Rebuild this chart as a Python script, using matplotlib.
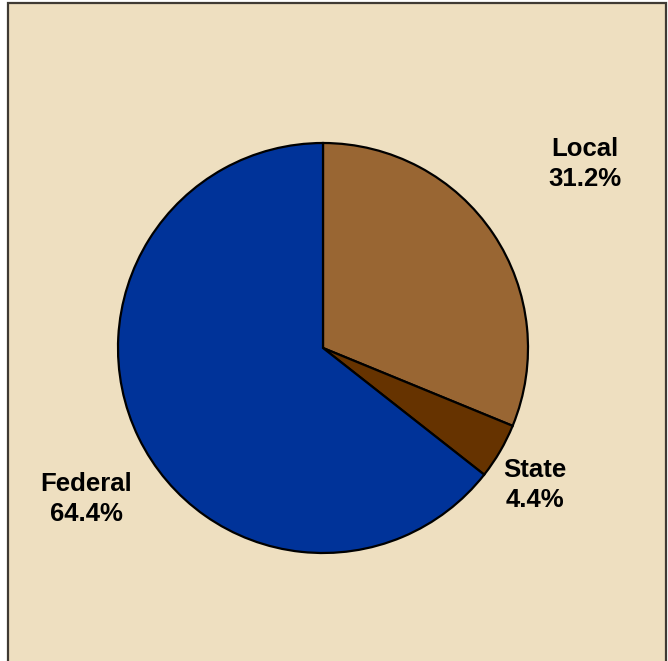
import matplotlib.pyplot as plt
from matplotlib.patches import Rectangle

# Funding shares by level of government
fontes = ['Local', 'State', 'Federal']
percentuais = [31.2, 4.4, 64.4]
cores = ['#996633', '#663300', '#003399']

fig = plt.figure(figsize=(6.68, 6.61), dpi=100)
fig.patch.set_facecolor('white')
ax = fig.add_axes([0, 0, 1, 1])
ax.axis('off')

# fundo tipo pergaminho com moldura escura
ax.add_patch(Rectangle((8, -10), 658, 668, facecolor='#eedfc0',
                       edgecolor='#3f3a33', linewidth=1.6, zorder=0))

ax.pie(percentuais, colors=cores, startangle=90, counterclock=False,
       center=(323, 313), radius=205,
       wedgeprops={'edgecolor': 'black', 'linewidth': 1.6})
ax.set_xlim(0, 668)
ax.set_ylim(0, 661)
ax.set_aspect('auto')

posicoes = {'Local': (585, 497), 'State': (535, 176), 'Federal': (86, 162)}
for nome, valor in zip(fontes, percentuais):
    x, y = posicoes[nome]
    ax.text(x, y, f'{nome}\n{valor}%', ha='center', va='center',
            fontsize=18.5, fontweight='bold', family='Liberation Sans',
            linespacing=1.32, color='black')

plt.savefig('out.png', dpi=100)
